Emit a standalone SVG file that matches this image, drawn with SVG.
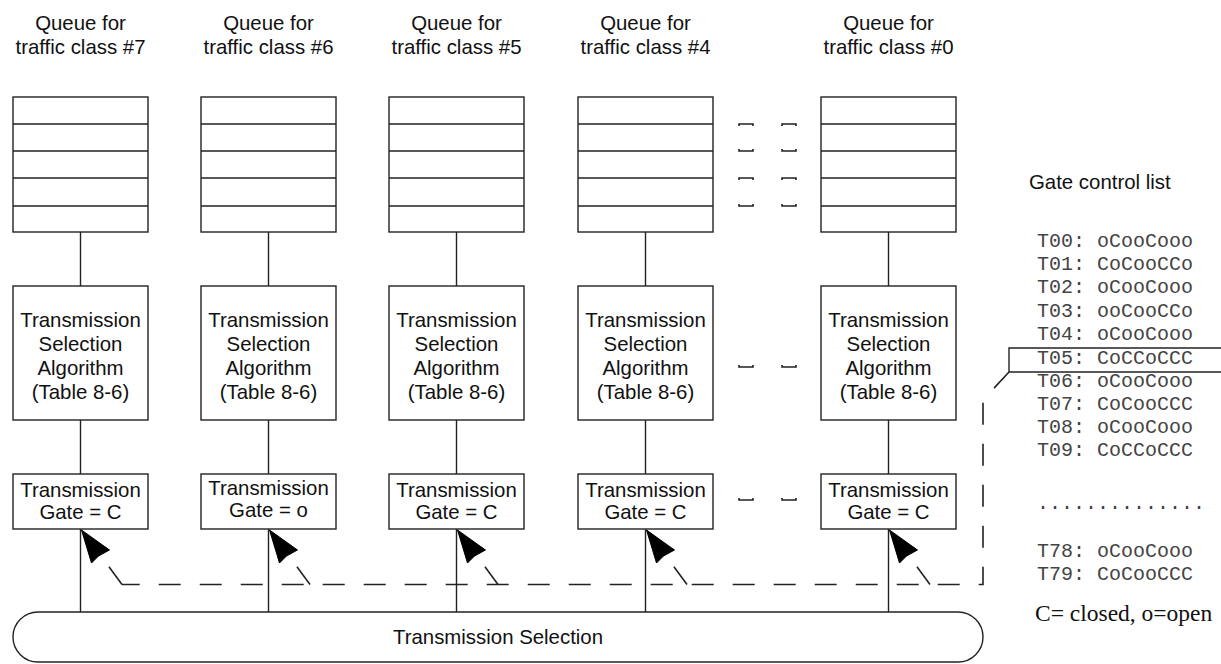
<svg xmlns="http://www.w3.org/2000/svg" width="1221" height="664" viewBox="0 0 1221 664">
<defs>
<style>
.ln{fill:none;stroke:#222;stroke-width:1.4}
.box{fill:#fff;stroke:#222;stroke-width:1.4}
.t{font-family:"Liberation Sans",Arial,sans-serif;font-size:20.4px;fill:#111;text-anchor:middle}
.tl{font-family:"Liberation Sans",Arial,sans-serif;font-size:20.4px;fill:#111}
.m{font-family:"Liberation Mono","Courier New",monospace;font-size:20px;fill:#444}
.s{font-family:"Liberation Serif","Times New Roman",serif;font-size:23.5px;fill:#111}
.dash{fill:none;stroke:#222;stroke-width:1.6;stroke-dasharray:22 19}
.tick{fill:none;stroke:#222;stroke-width:1.6}
.ah{fill:#000;stroke:#000;stroke-width:1}
</style>
<polygon id="arrowhead" class="ah" points="0,0 10,33 17,26 28,20"/>
<g id="queue">
<rect class="box" x="0" y="97" width="135" height="135"/>
<path class="ln" d="M0,124H135M0,151H135M0,178H135M0,206H135"/>
</g>
</defs>
<rect width="1221" height="664" fill="#fff"/>

<!-- column labels -->
<g id="labels">
<text class="t" x="80.5" y="30">Queue for</text><text class="t" x="80.5" y="54">traffic class #7</text>
<text class="t" x="268.5" y="30">Queue for</text><text class="t" x="268.5" y="54">traffic class #6</text>
<text class="t" x="456.5" y="30">Queue for</text><text class="t" x="456.5" y="54">traffic class #5</text>
<text class="t" x="645.5" y="30">Queue for</text><text class="t" x="645.5" y="54">traffic class #4</text>
<text class="t" x="888.5" y="30">Queue for</text><text class="t" x="888.5" y="54">traffic class #0</text>
</g>

<!-- connectors -->
<g id="connectors">
<path class="ln" d="M80.5,232V286M80.5,420V474M80.5,529V612"/>
<path class="ln" d="M268.5,232V286M268.5,420V474M268.5,529V612"/>
<path class="ln" d="M456.5,232V286M456.5,420V474M456.5,529V612"/>
<path class="ln" d="M645.5,232V286M645.5,420V474M645.5,529V612"/>
<path class="ln" d="M888.5,232V286M888.5,420V474M888.5,529V612"/>
<path class="dash" d="M1009,372L983,400V584.5H122"/>
<path class="dash" d="M122,584.5L99.5,554"/>
<path class="dash" d="M310,584.5L287.5,554"/>
<path class="dash" d="M498,584.5L475.5,554"/>
<path class="dash" d="M687,584.5L664.5,554"/>
<path class="dash" d="M930,584.5L907.5,554"/>
<use href="#arrowhead" x="81.5" y="530"/>
<use href="#arrowhead" x="269.5" y="530"/>
<use href="#arrowhead" x="457.5" y="530"/>
<use href="#arrowhead" x="646.5" y="530"/>
<use href="#arrowhead" x="889.5" y="530"/>
</g>

<!-- queues -->
<g id="q7"><use href="#queue" x="13"/></g>
<g id="q6"><use href="#queue" x="201"/></g>
<g id="q5"><use href="#queue" x="389"/></g>
<g id="q4"><use href="#queue" x="578"/></g>
<g id="q0"><use href="#queue" x="821"/></g>

<!-- ellipsis marks -->
<g id="ellipsis">
<path class="tick" d="M739,126V124H753V126M782,126V124H796V126"/>
<path class="tick" d="M739,149V151H753V149M782,149V151H796V149"/>
<path class="tick" d="M739,180V178H753V180M782,180V178H796V180"/>
<path class="tick" d="M739,204V206H753V204M782,204V206H796V204"/>
<path class="tick" d="M739,365V367H753V365M782,365V367H796V365"/>
<path class="tick" d="M739,498V500H753V498M782,498V500H796V498"/>
</g>

<!-- transmission selection algorithm boxes -->
<g id="tsa7"><rect class="box" x="13" y="286" width="135" height="134"/>
<text class="t" x="80.5" y="327">Transmission</text><text class="t" x="80.5" y="351">Selection</text><text class="t" x="80.5" y="375">Algorithm</text><text class="t" x="80.5" y="399">(Table 8-6)</text></g>
<g id="tsa6"><rect class="box" x="201" y="286" width="135" height="134"/>
<text class="t" x="268.5" y="327">Transmission</text><text class="t" x="268.5" y="351">Selection</text><text class="t" x="268.5" y="375">Algorithm</text><text class="t" x="268.5" y="399">(Table 8-6)</text></g>
<g id="tsa5"><rect class="box" x="389" y="286" width="135" height="134"/>
<text class="t" x="456.5" y="327">Transmission</text><text class="t" x="456.5" y="351">Selection</text><text class="t" x="456.5" y="375">Algorithm</text><text class="t" x="456.5" y="399">(Table 8-6)</text></g>
<g id="tsa4"><rect class="box" x="578" y="286" width="135" height="134"/>
<text class="t" x="645.5" y="327">Transmission</text><text class="t" x="645.5" y="351">Selection</text><text class="t" x="645.5" y="375">Algorithm</text><text class="t" x="645.5" y="399">(Table 8-6)</text></g>
<g id="tsa0"><rect class="box" x="821" y="286" width="135" height="134"/>
<text class="t" x="888.5" y="327">Transmission</text><text class="t" x="888.5" y="351">Selection</text><text class="t" x="888.5" y="375">Algorithm</text><text class="t" x="888.5" y="399">(Table 8-6)</text></g>

<!-- gates -->
<g id="gate7"><rect class="box" x="13" y="474" width="135" height="55"/>
<text class="t" x="80.5" y="497">Transmission</text><text class="t" x="80.5" y="519">Gate = C</text></g>
<g id="gate6"><rect class="box" x="201" y="474" width="135" height="55"/>
<text class="t" x="268.5" y="495">Transmission</text><text class="t" x="268.5" y="517">Gate = o</text></g>
<g id="gate5"><rect class="box" x="389" y="474" width="135" height="55"/>
<text class="t" x="456.5" y="497">Transmission</text><text class="t" x="456.5" y="519">Gate = C</text></g>
<g id="gate4"><rect class="box" x="578" y="474" width="135" height="55"/>
<text class="t" x="645.5" y="497">Transmission</text><text class="t" x="645.5" y="519">Gate = C</text></g>
<g id="gate0"><rect class="box" x="821" y="474" width="135" height="55"/>
<text class="t" x="888.5" y="497">Transmission</text><text class="t" x="888.5" y="519">Gate = C</text></g>

<!-- transmission selection -->
<g id="selection">
<rect class="ln" x="13" y="612" width="970" height="50" rx="25" ry="25"/>
<text class="t" x="498" y="644">Transmission Selection</text>
</g>

<!-- gate control list -->
<g id="gcl">
<text class="tl" x="1029" y="189">Gate control list</text>
<text class="m" x="1037" y="247">T00: oCooCooo</text>
<text class="m" x="1037" y="270">T01: CoCooCCo</text>
<text class="m" x="1037" y="293">T02: oCooCooo</text>
<text class="m" x="1037" y="317">T03: ooCooCCo</text>
<text class="m" x="1037" y="340">T04: oCooCooo</text>
<path class="ln" d="M1221,348H1009V372H1221"/>
<text class="m" x="1037" y="364">T05: CoCCoCCC</text>
<text class="m" x="1037" y="387">T06: oCooCooo</text>
<text class="m" x="1037" y="410">T07: CoCooCCC</text>
<text class="m" x="1037" y="433">T08: oCooCooo</text>
<text class="m" x="1037" y="456">T09: CoCCoCCC</text>
<text class="m" x="1037" y="509">..............</text>
<text class="m" x="1037" y="557">T78: oCooCooo</text>
<text class="m" x="1037" y="580">T79: CoCooCCC</text>
<text class="s" x="1035" y="621">C= closed, o=open</text>
</g>
</svg>
